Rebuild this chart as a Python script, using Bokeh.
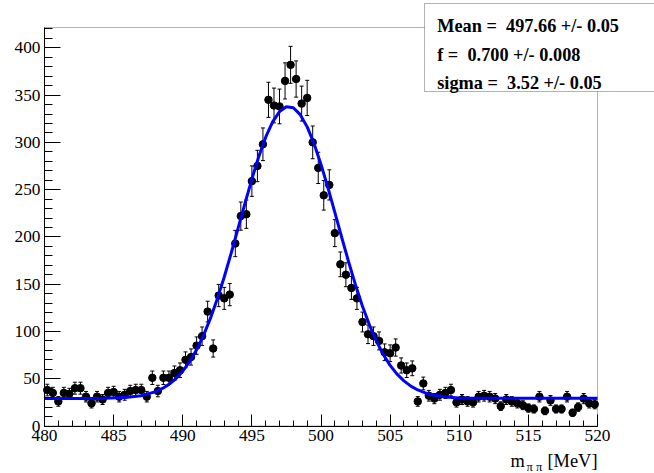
import numpy as np
from bokeh.plotting import figure
from bokeh.models import (ColumnDataSource, Range1d, SingleIntervalTicker, Whisker,
                          TeeHead, BoxAnnotation, Label)
from bokeh.embed import file_html
from bokeh.resources import INLINE

# histogram of m_pipi, 100 bins of 0.4 MeV from 480 to 520
bin_lo = 480.0
bin_width = 0.4
counts = [38, 35, 26, 35, 34, 40, 40, 31, 24, 31,
          28, 35, 36, 31, 33, 37, 38, 38, 31, 51,
          37, 51, 51, 56, 59, 70, 73, 85, 95, 121,
          82, 138, 135, 139, 193, 222, 224, 259, 275, 298,
          345, 339, 338, 365, 382, 367, 341, 347, 300, 273,
          244, 255, 204, 171, 160, 146, 135, 110, 97, 95,
          90, 78, 77, 83, 64, 59, 61, 26, 45, 32,
          29, 33, 35, 38, 25, 28, 26, 25, 31, 32,
          31, 29, 21, 28, 26, 24, 22, 19, 18, 31,
          16, 27, 18, 18, 31, 14, 20, 29, 24, 23]

# fitted curve (gaussian + flat background)
fit_x = [480, 482, 484, 486, 487, 488, 488.5, 489, 489.5, 490, 490.5, 491, 491.5,
         492, 492.5, 493, 493.5, 494, 494.5, 495, 495.5, 496, 496.5, 497, 497.5,
         498, 498.5, 499, 499.5, 500, 500.5, 501, 501.5, 502, 502.5, 503, 503.5,
         504, 504.5, 505, 505.5, 506, 506.5, 507, 507.5, 508, 509, 510, 511,
         512, 514, 516, 518, 520]
fit_y = [29, 29, 29.1, 30.3, 32.1, 36.1, 39.5, 44, 50, 58, 68, 80.6, 95.8,
         113.8, 134.5, 157.6, 182.7, 209, 235.5, 261.2, 285, 305.5, 321.7, 332.6, 337.7,
         336.6, 329.3, 316.4, 298.5, 276.7, 252.1, 226, 199.4, 173.5, 149, 126.7, 107,
         90, 75.8, 64.1, 54.9, 47.7, 42.2, 38.1, 35.2, 33.1, 30.7, 29.7, 29.4,
         29.3, 29.3, 29.3, 29.3, 29.3]

# fit results (nbsp keeps the double space of the original box)
stat_lines = ["Mean =\u00a0 497.66 +/- 0.05",
              "f =\u00a0 0.700 +/- 0.008",
              "sigma =\u00a0 3.52 +/- 0.05"]

x_lo, x_hi = 480, 520
y_lo, y_hi = 0, 421.5

counts = np.array(counts, dtype=float)
xc = bin_lo + bin_width * (np.arange(len(counts)) + 0.5)
err = np.sqrt(counts)
src = ColumnDataSource(data=dict(x=xc, y=counts, lo=counts - err, hi=counts + err))

FONT = "Liberation Serif"

# the frame fills the whole canvas (axes are pinned with fixed_location),
# so the stat box and axis title are not clipped away
p = figure(width=654, height=473,
           x_range=Range1d(476.817, 524.123), y_range=Range1d(-50.24, 450.06),
           output_backend="svg", toolbar_location=None, min_border=0)
p.grid.grid_line_color = None
p.outline_line_color = None
p.background_fill_color = "white"
p.border_fill_color = "white"

p.xaxis.ticker = SingleIntervalTicker(interval=5, num_minor_ticks=5)
p.yaxis.ticker = SingleIntervalTicker(interval=50, num_minor_ticks=5)
p.xaxis.fixed_location = y_lo
p.yaxis.fixed_location = x_lo
p.xaxis.bounds = (x_lo, x_hi)
p.yaxis.bounds = (y_lo, y_hi)
p.axis.axis_line_color = "black"
p.axis.major_tick_line_color = "black"
p.axis.minor_tick_line_color = "black"
p.axis.major_tick_out = 0
p.axis.minor_tick_out = 0
p.axis.major_label_text_font = FONT
p.axis.major_label_text_font_size = "17.3px"
p.axis.major_label_text_color = "black"
p.axis.major_label_standoff = 4
p.xaxis.major_tick_in = 12
p.xaxis.minor_tick_in = 6
p.yaxis.major_tick_in = 16
p.yaxis.minor_tick_in = 8

# frame around the histogram area
p.add_layout(BoxAnnotation(left=x_lo, right=x_hi, bottom=y_lo, top=y_hi,
                           fill_alpha=0, line_color="black", line_width=1,
                           level="underlay"))

# error bars and points
p.add_layout(Whisker(source=src, base="x", upper="hi", lower="lo", line_color="black",
                     line_width=1,
                     upper_head=TeeHead(size=4, line_color="black", line_width=1),
                     lower_head=TeeHead(size=4, line_color="black", line_width=1)))
p.scatter(x="x", y="y", source=src, size=7.5, color="black")

# fit
p.line(fit_x, fit_y, line_color="#0000ff", line_width=3)

# stat box
p.add_layout(BoxAnnotation(left=507.486, right=530, bottom=353.81, top=446.89,
                           fill_color="white", fill_alpha=1.0,
                           line_color="black", line_width=1, level="overlay"))
for txt, yb in zip(stat_lines, [422.56, 392.1, 362.59]):
    p.add_layout(Label(x=508.405, y=yb, text=txt, text_font=FONT, text_font_size="18.3px",
                       text_font_style="bold", text_color="black",
                       text_baseline="alphabetic", level="overlay"))

# x axis title, m_pipi [MeV]
p.add_layout(Label(x=513.707, y=-37.2, text="m", text_font=FONT, text_font_size="18.4px",
                   text_color="black", text_baseline="alphabetic"))
p.add_layout(Label(x=514.865, y=-43.2, text="π π", text_font=FONT, text_font_size="12.5px",
                   text_color="black", text_baseline="alphabetic"))
p.add_layout(Label(x=x_hi, y=-37.2, text="[MeV]", text_font=FONT, text_font_size="18.4px",
                   text_color="black", text_align="right", text_baseline="alphabetic"))

open("out.html", "w").write(file_html(p, INLINE))
